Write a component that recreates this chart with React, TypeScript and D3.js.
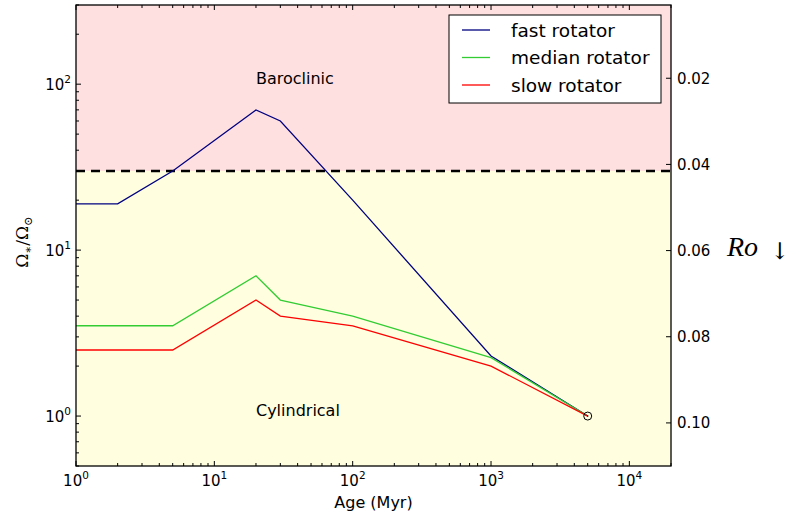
import * as d3 from "d3";
import React, { useEffect } from "react";

// rotation tracks, Omega_* / Omega_sun against age in Myr
const fastAge = [1, 2, 5, 20, 30, 100, 1000, 5000];
const fastOmega = [19, 19, 30, 70, 60, 20, 2.3, 1];
const medianAge = [1, 5, 20, 30, 100, 1000, 5000];
const medianOmega = [3.5, 3.5, 7, 5, 4, 2.25, 1];
const slowAge = [1, 5, 20, 30, 100, 1000, 5000];
const slowOmega = [2.5, 2.5, 5, 4, 3.5, 2, 1];

const series = [
  { name: "fast rotator", age: fastAge, omega: fastOmega, color: "#000080" },
  { name: "median rotator", age: medianAge, omega: medianOmega, color: "#33cc33" },
  { name: "slow rotator", age: slowAge, omega: slowOmega, color: "#ff0000" },
];

const xMajor = [1, 10, 100, 1000, 10000];
const yMajor = [1, 10, 100];
const roTicks = [0.02, 0.04, 0.06, 0.08, 0.1];
const roLabels = ["0.02", "0.04", "0.06", "0.08", "0.10"];
const transition = 30; // baroclinic / cylindrical boundary
const sunAge = 5000;
const sunOmega = 1;

const W = 804;
const H = 519;
const m = { left: 76, right: 133, top: 5, bottom: 53 };
const sans = "DejaVu Sans";

export default function App() {
  useEffect(() => {
    document.body.style.margin = "0";
  }, []);

  const x = d3.scaleLog().domain([1, 2e4]).range([m.left, W - m.right]);
  const y = d3.scaleLog().domain([0.5, 300]).range([H - m.bottom, m.top]);
  const ro = d3.scaleLinear().domain([0.003, 0.11]).range([m.top, H - m.bottom]);

  const x0 = m.left, x1 = W - m.right, y0 = m.top, y1 = H - m.bottom;

  const xMinor = x.ticks().filter((t) => !xMajor.includes(t));
  const yMinor = y.ticks().filter((t) => !yMajor.includes(t));

  const line = d3
    .line<[number, number]>()
    .x((d) => x(d[0]))
    .y((d) => y(d[1]));

  const legX = 449, legY = 15;

  return (
    <svg width={W} height={H} style={{ display: "block" }} fontFamily={sans}>
      <rect x={x0} y={y0} width={x1 - x0} height={y(transition) - y0} fill="#ffe0e0" />
      <rect x={x0} y={y(transition)} width={x1 - x0} height={y1 - y(transition)} fill="#ffffe0" />

      <line x1={x0} x2={x1} y1={y(transition)} y2={y(transition)}
        stroke="#000" strokeWidth={2.5} strokeDasharray="9,6" />

      {series.map((s) => (
        <path key={s.name} d={line(s.age.map((a, i) => [a, s.omega[i]]))!}
          fill="none" stroke={s.color} strokeWidth={1.3} />
      ))}

      <circle cx={x(sunAge)} cy={y(sunOmega)} r={4} fill="none" stroke="#000" strokeWidth={1} />
      <circle cx={x(sunAge)} cy={y(sunOmega)} r={0.8} fill="#000" />

      <text x={x(20)} y={y(100)} fontSize={16}>Baroclinic</text>
      <text x={x(20)} y={y(1)} fontSize={16}>Cylindrical</text>

      {/* ticks */}
      <g stroke="#000" strokeWidth={1}>
        {xMajor.map((t) => (
          <g key={"xm" + t}>
            <line x1={x(t)} x2={x(t)} y1={y1} y2={y1 - 5} />
            <line x1={x(t)} x2={x(t)} y1={y0} y2={y0 + 5} />
          </g>
        ))}
        {xMinor.map((t) => (
          <g key={"xn" + t}>
            <line x1={x(t)} x2={x(t)} y1={y1} y2={y1 - 3} />
            <line x1={x(t)} x2={x(t)} y1={y0} y2={y0 + 3} />
          </g>
        ))}
        {yMajor.map((t) => (
          <line key={"ym" + t} x1={x0} x2={x0 + 5} y1={y(t)} y2={y(t)} />
        ))}
        {yMinor.map((t) => (
          <line key={"yn" + t} x1={x0} x2={x0 + 3} y1={y(t)} y2={y(t)} />
        ))}
        {roTicks.map((t) => (
          <line key={"r" + t} x1={x1} x2={x1 - 5} y1={ro(t)} y2={ro(t)} />
        ))}
      </g>

      <rect x={x0} y={y0} width={x1 - x0} height={y1 - y0} fill="none" stroke="#000" strokeWidth={1.3} />

      {/* tick labels */}
      {xMajor.map((t, i) => (
        <text key={"xl" + t} x={x(t)} y={486} fontSize={15} textAnchor="middle">
          10<tspan dy={-7} fontSize={10.5}>{i}</tspan>
        </text>
      ))}
      {yMajor.map((t, i) => (
        <text key={"yl" + t} x={x0 - 5} y={y(t) + 5.5} fontSize={15} textAnchor="end">
          10<tspan dy={-7} fontSize={10.5}>{i}</tspan>
        </text>
      ))}
      {roTicks.map((t, i) => (
        <text key={"rl" + t} x={x1 + 6} y={ro(t) + 5.5} fontSize={15}>{roLabels[i]}</text>
      ))}

      <text x={(x0 + x1) / 2} y={508} fontSize={16} textAnchor="middle">Age (Myr)</text>

      <text transform={`translate(28,242) rotate(-90)`} fontFamily="DejaVu Serif" fontSize={17} textAnchor="middle">
        Ω<tspan dy={4} fontSize={11.5}>∗</tspan>
        <tspan dy={-4}>/Ω</tspan>
        <tspan dy={4} fontSize={11.5}>⊙</tspan>
      </text>

      <text x={727} y={256} fontFamily="Liberation Serif" fontStyle="italic" fontSize={28}>Ro</text>
      <text x={770} y={259} fontFamily="DejaVu Serif" fontSize={23}>↓</text>

      {/* legend */}
      <rect x={legX} y={legY} width={212} height={88} fill="#fff" stroke="#000" strokeWidth={1} />
      {series.map((s, i) => (
        <g key={"lg" + s.name}>
          <line x1={462} x2={490} y1={30 + i * 27.5} y2={30 + i * 27.5} stroke={s.color} strokeWidth={1.3} />
          <text x={511} y={36.5 + i * 27.5} fontSize={18.5}>{s.name}</text>
        </g>
      ))}
    </svg>
  );
}
